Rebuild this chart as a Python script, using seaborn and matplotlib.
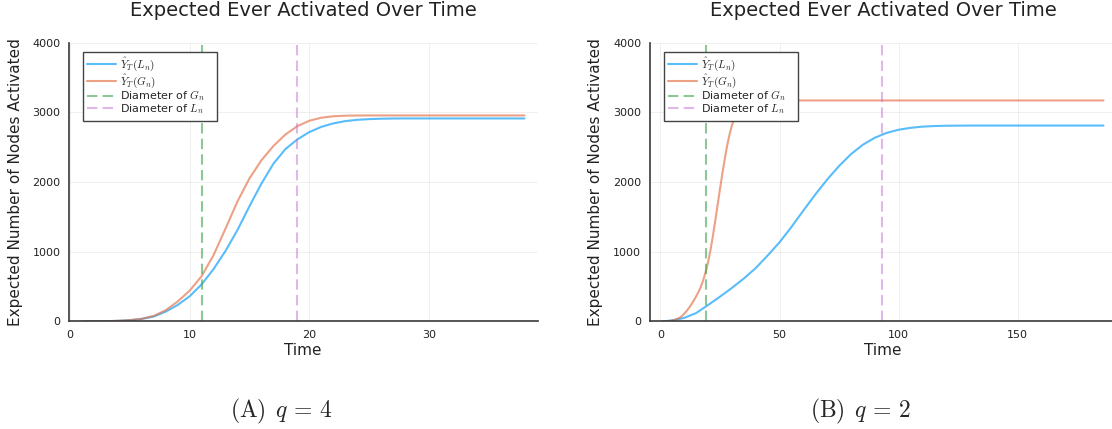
import numpy as np
import pandas as pd
import matplotlib
matplotlib.use("Agg")
import matplotlib.pyplot as plt
import seaborn as sns

# ---------------- data ----------------
# Panel A (q = 4)
time_q4 = list(range(1, 39))
ever_L_q4 = [0, 1, 3, 8, 17, 35, 70, 140, 235, 360, 530, 750, 1010, 1310, 1650, 1975,
             2260, 2470, 2610, 2715, 2790, 2840, 2873, 2892, 2902, 2908, 2911, 2912,
             2912, 2912, 2912, 2912, 2912, 2912, 2912, 2912, 2912, 2912]
ever_G_q4 = [0, 1, 3, 8, 18, 38, 78, 160, 285, 440, 648, 950, 1330, 1720, 2050, 2310,
             2515, 2680, 2800, 2878, 2922, 2943, 2951, 2954, 2955, 2955, 2955, 2955,
             2955, 2955, 2955, 2955, 2955, 2955, 2955, 2955, 2955, 2955]
diam_G_q4 = 11
diam_L_q4 = 19

# Panel B (q = 2)
time_q2_L = [1, 5, 10, 15, 20, 25, 30, 35, 40, 45, 50, 55, 60, 65, 70, 75, 80, 85, 90,
             95, 100, 105, 110, 115, 120, 130, 150, 186]
ever_L_q2 = [0, 15, 50, 120, 235, 355, 480, 615, 765, 945, 1135, 1355, 1590, 1820, 2035,
             2230, 2400, 2535, 2635, 2705, 2750, 2777, 2794, 2803, 2807, 2810, 2810, 2810]
time_q2_G = list(range(1, 46)) + [50, 60, 80, 100, 120, 150, 186]
ever_G_q2 = [0, 1, 3, 7, 13, 22, 35, 52, 75, 110, 150, 195, 245, 300, 360, 425, 500, 595,
             710, 850, 1020, 1220, 1440, 1670, 1900, 2120, 2330, 2520, 2680, 2810, 2910,
             2980, 3030, 3070, 3100, 3122, 3138, 3150, 3158, 3163, 3166, 3168, 3169, 3170,
             3170, 3170, 3170, 3170, 3170, 3170, 3170, 3170]
diam_G_q2 = 19
diam_L_q2 = 93

y_ticks = [0, 1000, 2000, 3000, 4000]
xticks_q4 = [0, 10, 20, 30]
xticks_q2 = [0, 50, 100, 150]

title = "Expected Ever Activated Over Time"
xlabel = "Time"
ylabel = "Expected Number of Nodes Activated"
lab_L = r"$\hat{Y}_T(L_n)$"
lab_G = r"$\hat{Y}_T(G_n)$"
lab_dG = r"Diameter of $G_n$   "
lab_dL = r"Diameter of $L_n$   "
captions = [r"$(\mathrm{A})\;\, q \,=\, 4$", r"$(\mathrm{B})\;\, q \,=\, 2$"]

# ---------------- style ----------------
sns.set_style("white")
plt.rcParams["font.family"] = ["DejaVu Sans"]
plt.rcParams["mathtext.fontset"] = "cm"

C_BLUE = "#009AFA"
C_ORANGE = "#E36F47"
C_GREEN = "#3EA44E"
C_PURPLE = "#C371D2"
AX_COL = "#3a3a3a"

W, H = 1112, 429
fig = plt.figure(figsize=(W / 100, H / 100), dpi=100)

def px_axes(left, right, top, bottom):
    return [left / W, (H - bottom) / H, (right - left) / W, (bottom - top) / H]

ax1 = fig.add_axes(px_axes(68.7, 537.7, 42.6, 321.4))
ax2 = fig.add_axes(px_axes(649.6, 1116.7, 42.6, 321.4))

panels = [
    (ax1, time_q4, ever_L_q4, time_q4, ever_G_q4, diam_G_q4, diam_L_q4, xticks_q4),
    (ax2, time_q2_L, ever_L_q2, time_q2_G, ever_G_q2, diam_G_q2, diam_L_q2, xticks_q2),
]

for ax, tL, yL, tG, yG, dG, dL, xt in panels:
    dfL = pd.DataFrame({"t": tL, "v": yL})
    dfG = pd.DataFrame({"t": tG, "v": yG})
    sns.lineplot(data=dfL, x="t", y="v", ax=ax, color=C_BLUE, lw=1.5, alpha=0.65,
                 label=lab_L)
    sns.lineplot(data=dfG, x="t", y="v", ax=ax, color=C_ORANGE, lw=1.5, alpha=0.65,
                 label=lab_G)
    ax.axvline(dG, color=C_GREEN, lw=1.5, alpha=0.6, ls=(0, (5, 2.5)), label=lab_dG)
    ax.axvline(dL, color=C_PURPLE, lw=1.5, alpha=0.5, ls=(0, (5, 2.5)), label=lab_dL)

    tmin = min(min(tL), min(tG))
    tmax = max(max(tL), max(tG))
    rng = tmax - tmin
    ax.set_xlim(tmin - 0.03 * rng, tmax + 0.03 * rng)
    ax.set_ylim(0, 4000)
    ax.set_xticks(xt)
    ax.set_yticks(y_ticks)
    ax.grid(True, color="#000000", alpha=0.07, lw=0.6)
    ax.set_axisbelow(True)
    for s in ["top", "right"]:
        ax.spines[s].set_visible(False)
    for s in ["left", "bottom"]:
        ax.spines[s].set_color(AX_COL)
        ax.spines[s].set_linewidth(1.2)
    ax.tick_params(direction="in", length=4, width=0.9, colors=AX_COL,
                   labelcolor="#222222", labelsize=8, pad=6)
    ax.set_title(title, fontsize=14, pad=19, color="#222222")
    ax.set_xlabel(xlabel, fontsize=11, labelpad=2, color="#222222")
    ax.set_ylabel(ylabel, fontsize=11, labelpad=7, color="#222222")

    leg = ax.legend(loc="upper left", bbox_to_anchor=(0.03, 0.968), borderaxespad=0,
                    fontsize=8, frameon=True, fancybox=False, framealpha=1,
                    edgecolor="#444444", handlelength=2.6, handletextpad=0.35,
                    labelspacing=-0.1, borderpad=0.4)
    leg.get_frame().set_linewidth(1.0)

fig.text(281 / W, 1 - 411 / H, captions[0], ha="center", va="center", fontsize=17)
fig.text(860 / W, 1 - 411 / H, captions[1], ha="center", va="center", fontsize=17)

fig.savefig("out.png", dpi=100)
